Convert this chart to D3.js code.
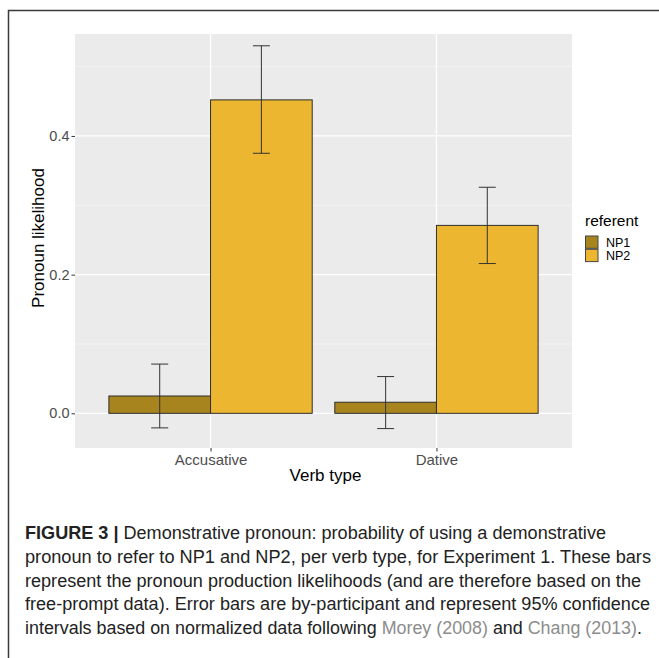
<!DOCTYPE html>
<html>
<head>
<meta charset="utf-8">
<script src="https://cdn.jsdelivr.net/npm/d3@7"></script>
<style>
  html, body { margin: 0; padding: 0; background: #fff; }
  svg { display: block; }
  text { font-family: "Liberation Sans", Arial, Helvetica, sans-serif; }
</style>
</head>
<body>
<svg id="fig" width="659" height="658"></svg>
<script>
// Verb types on the x axis and the two referents in the legend
const verbTypes = ["Accusative", "Dative"];
const referents = ["NP1", "NP2"];

// Pronoun likelihood per verb type, one array per referent
const np1Mean = [0.025, 0.016];
const np2Mean = [0.452, 0.271];

// 95% confidence interval limits
const np1Lower = [-0.021, -0.022];
const np1Upper = [0.071, 0.053];
const np2Lower = [0.375, 0.216];
const np2Upper = [0.530, 0.326];

const yMajorTicks = [0.0, 0.2, 0.4];
const yMinorTicks = [0.1, 0.3, 0.5];

const fillColors = ["#a8841f", "#ecb631"];

const captionLines = [
  [{t: "FIGURE 3 | ", b: true}, {t: "Demonstrative pronoun: probability of using a demonstrative"}],
  [{t: "pronoun to refer to NP1 and NP2, per verb type, for Experiment 1. These bars"}],
  [{t: "represent the pronoun production likelihoods (and are therefore based on the"}],
  [{t: "free-prompt data). Error bars are by-participant and represent 95% confidence"}],
  [{t: "intervals based on normalized data following "}, {t: "Morey (2008)", link: true}, {t: " and "}, {t: "Chang (2013)", link: true}, {t: "."}]
];
const captionWidths = [581, 626, 616, 625, 617];

const rows = verbTypes.map((v, i) => ({
  verb: v,
  bars: [
    {ref: "NP1", mean: np1Mean[i], lo: np1Lower[i], hi: np1Upper[i]},
    {ref: "NP2", mean: np2Mean[i], lo: np2Lower[i], hi: np2Upper[i]}
  ]
}));

const svg = d3.select("#fig");

// outer frame (top and left edges)
svg.append("path")
  .attr("d", "M8.5,658 L8.5,10.5 L659,10.5")
  .attr("fill", "none").attr("stroke", "#3a3a3a").attr("stroke-width", 1.5);

const panel = {left: 75, right: 572, top: 34, bottom: 448};

const x = d3.scalePoint().domain(verbTypes).range([panel.left, panel.right]).padding(0.6);
const barGroupWidth = x.step() * 0.9;
const xSub = d3.scaleBand().domain(referents).range([-barGroupWidth / 2, barGroupWidth / 2]);
const y = d3.scaleLinear().domain([-0.05, 0.547]).range([panel.bottom, panel.top]);
const color = d3.scaleOrdinal().domain(referents).range(fillColors);

// panel background
svg.append("rect")
  .attr("x", panel.left).attr("y", panel.top)
  .attr("width", panel.right - panel.left).attr("height", panel.bottom - panel.top)
  .attr("fill", "#ebebeb");

const grid = svg.append("g");
grid.selectAll(".minor").data(yMinorTicks).join("line")
  .attr("x1", panel.left).attr("x2", panel.right)
  .attr("y1", d => y(d)).attr("y2", d => y(d))
  .attr("stroke", "#f5f5f5").attr("stroke-width", 0.8);
grid.selectAll(".major").data(yMajorTicks).join("line")
  .attr("x1", panel.left).attr("x2", panel.right)
  .attr("y1", d => y(d)).attr("y2", d => y(d))
  .attr("stroke", "#ffffff").attr("stroke-width", 1.3);
grid.selectAll(".vert").data(verbTypes).join("line")
  .attr("x1", d => x(d)).attr("x2", d => x(d))
  .attr("y1", panel.top).attr("y2", panel.bottom)
  .attr("stroke", "#ffffff").attr("stroke-width", 1.3);

// bars
const groups = svg.append("g").selectAll("g").data(rows).join("g")
  .attr("transform", d => `translate(${x(d.verb)},0)`);

groups.selectAll("rect").data(d => d.bars).join("rect")
  .attr("x", d => xSub(d.ref))
  .attr("width", xSub.bandwidth())
  .attr("y", d => y(Math.max(0, d.mean)))
  .attr("height", d => Math.abs(y(d.mean) - y(0)))
  .attr("fill", d => color(d.ref))
  .attr("stroke", "#2e2e2e").attr("stroke-width", 1);

// error bars
const capHalf = 8.5;
const err = groups.selectAll("g.err").data(d => d.bars).join("g")
  .attr("class", "err")
  .attr("transform", d => `translate(${xSub(d.ref) + xSub.bandwidth() / 2},0)`)
  .attr("stroke", "#333").attr("stroke-width", 1).attr("fill", "none");
err.append("line").attr("x1", 0).attr("x2", 0).attr("y1", d => y(d.lo)).attr("y2", d => y(d.hi));
err.append("line").attr("x1", -capHalf).attr("x2", capHalf).attr("y1", d => y(d.lo)).attr("y2", d => y(d.lo));
err.append("line").attr("x1", -capHalf).attr("x2", capHalf).attr("y1", d => y(d.hi)).attr("y2", d => y(d.hi));

// y axis
const yAxis = svg.append("g")
  .attr("transform", `translate(${panel.left},0)`)
  .call(d3.axisLeft(y).tickValues(yMajorTicks).tickFormat(d3.format(".1f")).tickSize(3.5).tickPadding(2));
yAxis.select(".domain").remove();
yAxis.selectAll("line").attr("stroke", "#333");
yAxis.selectAll("text").attr("fill", "#4d4d4d").attr("font-size", 14.5)
  .style("font-family", "Liberation Sans, Arial, sans-serif");

// x axis
const xAxis = svg.append("g")
  .attr("transform", `translate(0,${panel.bottom})`)
  .call(d3.axisBottom(x).tickSize(3.5).tickPadding(2.5));
xAxis.select(".domain").remove();
xAxis.selectAll("line").attr("stroke", "#333");
xAxis.selectAll("text").attr("fill", "#4d4d4d").attr("font-size", 15)
  .style("font-family", "Liberation Sans, Arial, sans-serif");

// axis titles
svg.append("text")
  .attr("x", (panel.left + panel.right) / 2 + 2).attr("y", 481)
  .attr("text-anchor", "middle").attr("font-size", 17).attr("fill", "#000")
  .text("Verb type");
svg.append("text")
  .attr("transform", `translate(44,${(panel.top + panel.bottom) / 2 - 3}) rotate(-90)`)
  .attr("text-anchor", "middle").attr("font-size", 17).attr("fill", "#000")
  .text("Pronoun likelihood");

// legend
const legend = svg.append("g").attr("transform", "translate(585,0)");
legend.append("text").attr("x", 0).attr("y", 226)
  .attr("font-size", 15.5).attr("fill", "#000").text("referent");
const items = legend.selectAll("g.item").data(referents).join("g")
  .attr("class", "item")
  .attr("transform", (d, i) => `translate(0,${235.5 + i * 13.3})`);
items.append("rect").attr("x", 0.5).attr("y", 0.5).attr("width", 12.5).attr("height", 12.3)
  .attr("fill", d => color(d)).attr("stroke", "#444").attr("stroke-width", 1);
items.append("text").attr("x", 21).attr("y", 11)
  .attr("font-size", 12.5).attr("fill", "#000").text(d => d);

// caption
const cap = svg.append("g");
captionLines.forEach((line, i) => {
  const t = cap.append("text")
    .attr("x", 25).attr("y", 539 + i * 23.8)
    .attr("font-size", 17.5).attr("fill", "#222")
    .attr("textLength", captionWidths[i]).attr("lengthAdjust", "spacingAndGlyphs");
  line.forEach(seg => {
    t.append("tspan")
      .attr("font-weight", seg.b ? "bold" : null)
      .attr("fill", seg.link ? "#8c8c8c" : null)
      .text(seg.t);
  });
});
</script>
</body>
</html>
